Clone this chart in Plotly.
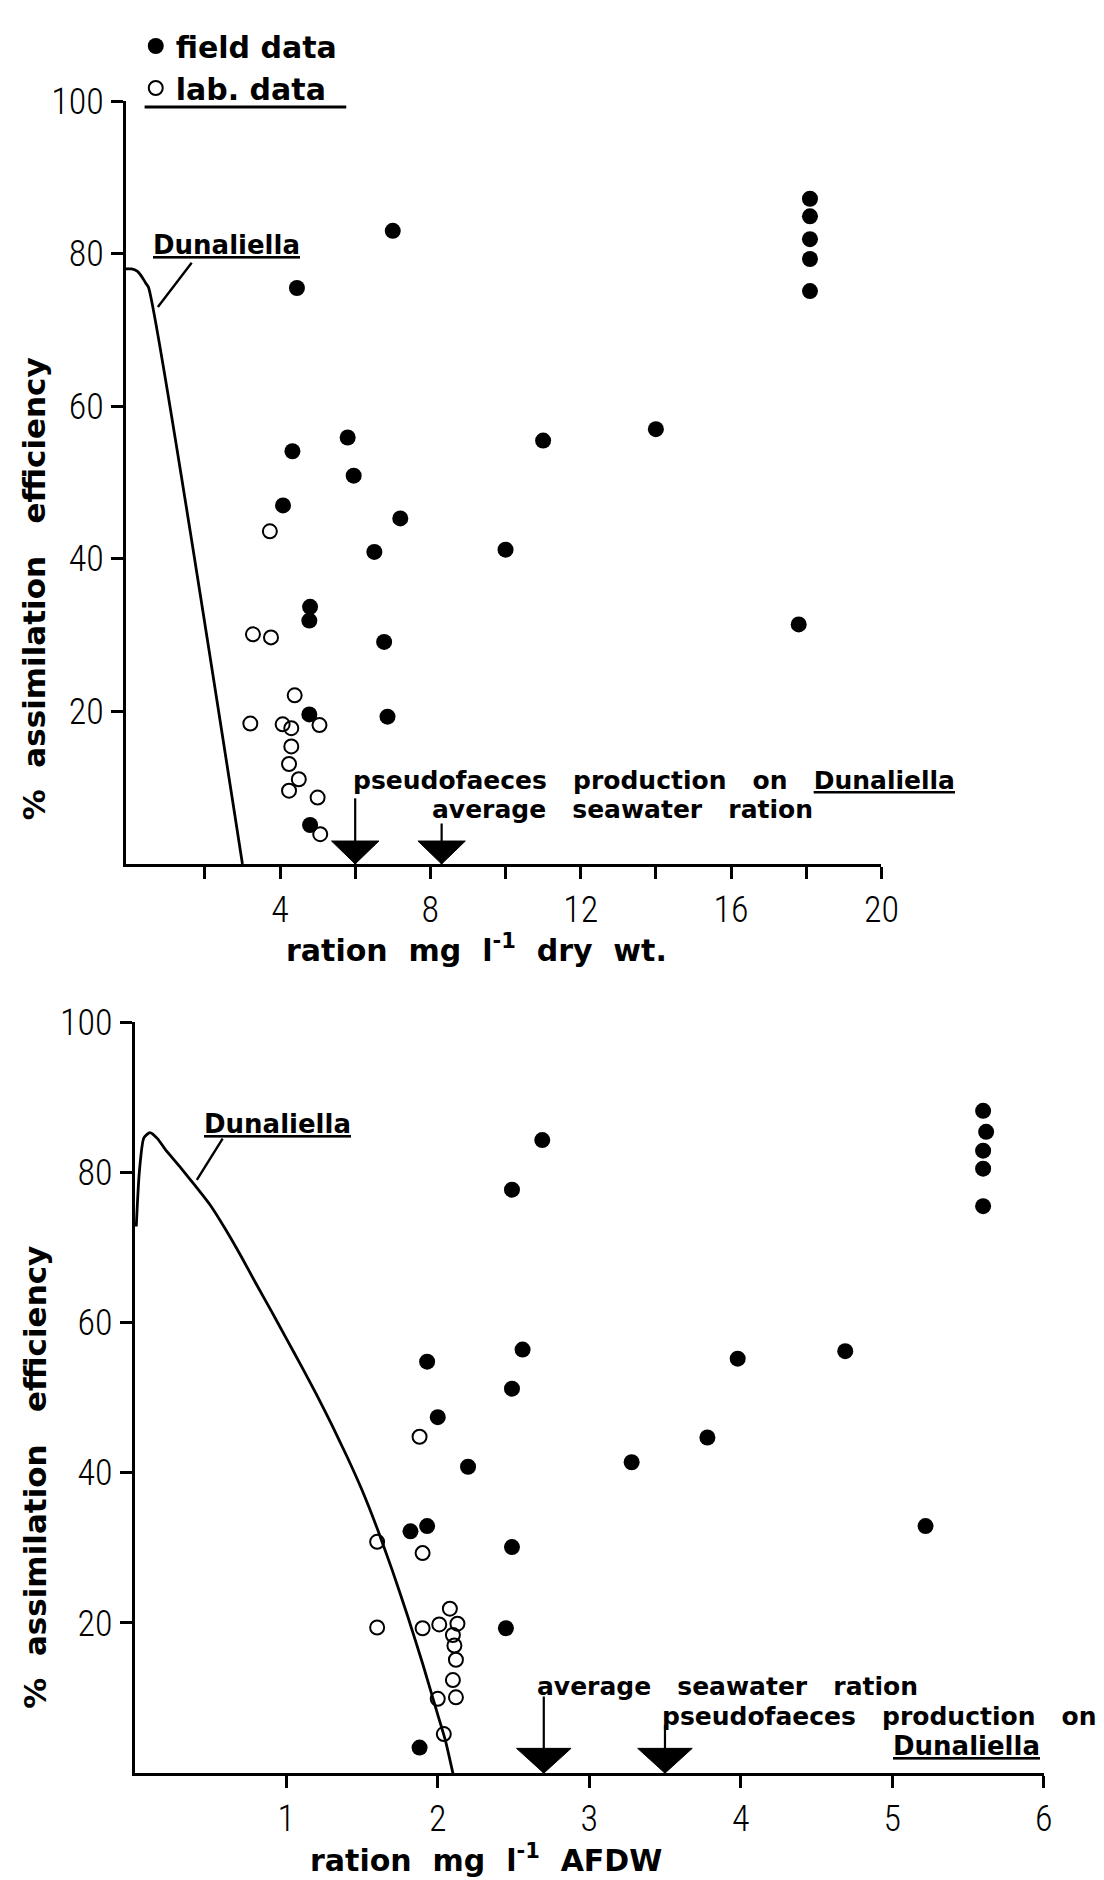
import plotly.graph_objects as go

# ---- Upper panel: ration as dry weight (mg l-1) ----
dw_field_x = [7.0, 4.45, 4.33, 5.80, 5.96, 4.08, 7.20, 6.51, 10.0, 11.0, 14.0,
              4.80, 4.78, 6.77, 4.78, 6.86, 4.80, 17.8, 18.1, 18.1, 18.1, 18.1, 18.1]
dw_field_y = [83.0, 75.5, 54.1, 55.9, 50.9, 47.0, 45.3, 40.9, 41.2, 55.5, 57.0,
              33.7, 31.9, 29.1, 19.6, 19.3, 5.1, 31.4, 87.2, 84.9, 81.9, 79.3, 75.1]
dw_lab_x = [3.73, 3.28, 3.76, 4.39, 3.21, 4.07, 4.30, 5.05, 4.30, 4.24, 4.50, 4.24, 5.00, 5.07]
dw_lab_y = [43.6, 30.1, 29.7, 22.1, 18.4, 18.3, 17.8, 18.2, 15.4, 13.1, 11.1, 9.6, 8.7, 3.9]
dw_curve_x = [-0.1, 0.05, 0.20, 0.32, 0.42, 0.50, 3.00]
dw_curve_y = [78.0, 78.0, 77.7, 77.0, 76.2, 75.6, 0.0]
dw_markers = [6.0, 8.3]          # pseudofaeces on Dunaliella, average seawater ration
dw_marker_tops = [8.6, 5.3]
dw_pointer_x = [0.75, 1.65]
dw_pointer_y = [73.0, 78.8]
dw_ticks = [4, 8, 12, 16, 20]
dw_ticklabels = ["4", "8", "12", "16", "20"]
dw_minor_ticks = [2, 6, 10, 14, 18]

# ---- Lower panel: ration as ash-free dry weight (mg l-1) ----
afdw_field_x = [5.60, 5.62, 5.60, 5.60, 5.60, 2.69, 2.49, 2.56, 1.93, 2.49, 2.00,
                2.20, 3.98, 4.69, 3.78, 3.28, 5.22, 1.82, 1.93, 2.49, 2.45, 1.88]
afdw_field_y = [88.2, 85.4, 82.9, 80.5, 75.5, 84.3, 77.7, 56.4, 54.8, 51.2, 47.4,
                40.8, 55.2, 56.2, 44.7, 41.4, 32.9, 32.2, 32.9, 30.1, 19.3, 3.4]
afdw_lab_x = [1.88, 1.60, 1.90, 1.60, 1.90, 2.01, 2.08, 2.13, 2.10, 2.11, 2.12, 2.10, 2.00, 2.12, 2.04]
afdw_lab_y = [44.8, 30.8, 29.3, 19.4, 19.3, 19.8, 21.9, 19.9, 18.4, 17.0, 15.1, 12.4, 9.9, 10.1, 5.2]
afdw_curve_x = [0.01, 0.03, 0.06, 0.10, 0.15, 0.20, 0.30, 0.40, 0.50, 0.60, 0.70, 0.80, 0.90,
                1.00, 1.10, 1.20, 1.30, 1.40, 1.50, 1.60, 1.70, 1.80, 1.90, 2.00, 2.05, 2.10]
afdw_curve_y = [72.8, 80.0, 84.6, 85.3, 84.5, 83.1, 80.7, 78.2, 75.6, 72.4, 68.9, 65.2, 61.6,
                57.9, 54.2, 50.4, 46.4, 42.2, 37.7, 32.6, 27.0, 21.0, 14.6, 7.8, 4.4, 0.0]
afdw_markers = [2.7, 3.5]        # average seawater ration, pseudofaeces on Dunaliella
afdw_marker_tops = [10.2, 6.4]
afdw_pointer_x = [0.41, 0.58]
afdw_pointer_y = [79.0, 84.5]
afdw_ticks = [1, 2, 3, 4, 5, 6]
afdw_ticklabels = ["1", "2", "3", "4", "5", "6"]

y_ticks = [20, 40, 60, 80, 100]
y_ticklabels = ["20", "40", "60", "80", "100"]

W, H = 1104, 1880
INK = "black"
TICK_FONT = dict(family="Roboto Condensed, Liberation Sans Narrow, Roboto, sans-serif",
                 size=36, color=INK, weight=300)
NOTE_FONT = dict(family="DejaVu Sans", size=25, color=INK, weight="bold")
NAME_FONT = dict(family="DejaVu Sans", size=26, color=INK, weight="bold")
TITLE_FONT = dict(family="DejaVu Sans", size=31, color=INK, weight="bold")
XTITLE_FONT = dict(family="DejaVu Sans", size=30, color=INK, weight="bold")
SP = "\u00a0\u00a0"
GAP = "\u00a0\u00a0\u00a0"


def triangle_path(xs, half_w, h):
    """Inverted-triangle outline for each marker position on the x axis."""
    px, py = [], []
    for v in xs:
        px += [v - half_w, v + half_w, v, v - half_w, None]
        py += [h, h, 0, h, None]
    return px, py


def drop_lines(xs, tops):
    px, py = [], []
    for v, t in zip(xs, tops):
        px += [v, v, None]
        py += [t, 0, None]
    return px, py


def line_trace(x, y, xa, ya, width):
    return go.Scatter(x=x, y=y, mode="lines", line=dict(color=INK, width=width),
                      showlegend=False, hoverinfo="skip", xaxis=xa, yaxis=ya)


fig = go.Figure()

# upper panel
fig.add_trace(go.Scatter(x=dw_curve_x, y=dw_curve_y, mode="lines",
                         line=dict(color=INK, width=2.8, shape="spline", smoothing=0.6),
                         showlegend=False, xaxis="x", yaxis="y"))
fig.add_trace(go.Scatter(x=dw_field_x, y=dw_field_y, mode="markers", name="field data",
                         marker=dict(symbol="circle", size=16, color=INK),
                         xaxis="x", yaxis="y"))
fig.add_trace(go.Scatter(x=dw_lab_x, y=dw_lab_y, mode="markers", name="lab. data",
                         marker=dict(symbol="circle-open", size=14, color=INK, line=dict(width=2)),
                         xaxis="x", yaxis="y"))
lx, ly = drop_lines(dw_markers, dw_marker_tops)
fig.add_trace(line_trace(lx, ly, "x", "y", 2.2))
fig.add_trace(line_trace(dw_pointer_x, dw_pointer_y, "x", "y", 2.4))
tx, ty = triangle_path(dw_markers, 0.63, 3.0)
fig.add_trace(go.Scatter(x=tx, y=ty, mode="lines", fill="toself", fillcolor=INK,
                         line=dict(color=INK, width=1), showlegend=False, xaxis="x", yaxis="y"))

# lower panel
fig.add_trace(go.Scatter(x=afdw_curve_x, y=afdw_curve_y, mode="lines",
                         line=dict(color=INK, width=2.8, shape="spline", smoothing=0.6),
                         showlegend=False, xaxis="x2", yaxis="y2"))
fig.add_trace(go.Scatter(x=afdw_field_x, y=afdw_field_y, mode="markers", showlegend=False,
                         marker=dict(symbol="circle", size=16, color=INK),
                         xaxis="x2", yaxis="y2"))
fig.add_trace(go.Scatter(x=afdw_lab_x, y=afdw_lab_y, mode="markers", showlegend=False,
                         marker=dict(symbol="circle-open", size=14, color=INK, line=dict(width=2)),
                         xaxis="x2", yaxis="y2"))
lx, ly = drop_lines(afdw_markers, afdw_marker_tops)
fig.add_trace(line_trace(lx, ly, "x2", "y2", 2.2))
fig.add_trace(line_trace(afdw_pointer_x, afdw_pointer_y, "x2", "y2", 2.4))
tx, ty = triangle_path(afdw_markers, 0.18, 3.3)
fig.add_trace(go.Scatter(x=tx, y=ty, mode="lines", fill="toself", fillcolor=INK,
                         line=dict(color=INK, width=1), showlegend=False, xaxis="x2", yaxis="y2"))

axis_common = dict(showline=True, linewidth=3, linecolor=INK, ticks="outside", ticklen=12,
                   tickwidth=3, tickcolor=INK, showgrid=False, zeroline=False,
                   tickfont=TICK_FONT, fixedrange=True)

fig.update_layout(
    width=W, height=H,
    margin=dict(l=0, r=0, t=0, b=0),
    paper_bgcolor="white", plot_bgcolor="white",
    showlegend=True,
    legend=dict(x=138 / W, y=1.0, xanchor="left", yanchor="top",
                font=dict(family="DejaVu Sans", size=30, color=INK, weight="bold"),
                bgcolor="rgba(0,0,0,0)", tracegroupgap=0, itemwidth=30),
    xaxis=dict(domain=[128 / W, 896 / W], range=[-0.1, 20], tickvals=dw_ticks,
               ticktext=dw_ticklabels, anchor="y",
               minor=dict(tickmode="array", tickvals=dw_minor_ticks, ticks="outside",
                          ticklen=12, tickwidth=3, tickcolor=INK, showgrid=False),
               **axis_common),
    yaxis=dict(domain=[1 - 853 / H, 1 - 82 / H], range=[0, 100], tickvals=y_ticks,
               ticktext=y_ticklabels, anchor="x", **axis_common),
    xaxis2=dict(domain=[137 / W, 1061 / W], range=[0, 6], tickvals=afdw_ticks,
                ticktext=afdw_ticklabels, anchor="y2", **axis_common),
    yaxis2=dict(domain=[1 - 1772 / H, 1 - 1013 / H], range=[0, 100], tickvals=y_ticks,
                ticktext=y_ticklabels, anchor="x2", **axis_common),
)

# underline beneath the key
fig.add_shape(type="line", xref="paper", yref="paper",
              x0=147 / W, x1=352 / W, y0=1 - 88 / H, y1=1 - 88 / H,
              line=dict(color=INK, width=3))

y_title = "%" + SP + "assimilation" + GAP + "efficiency"
annotations = [
    # axis titles
    dict(text=y_title, xref="paper", yref="paper", x=34 / W, y=1 - 575 / H,
         xanchor="center", yanchor="middle", textangle=-90, font=TITLE_FONT, showarrow=False),
    dict(text=y_title, xref="paper", yref="paper", x=36 / W, y=1 - 1473 / H,
         xanchor="center", yanchor="middle", textangle=-90, font=TITLE_FONT, showarrow=False),
    dict(text="ration" + SP + "mg" + SP + "l<sup>-1</sup>" + SP + "dry" + SP + "wt.",
         xref="paper", yref="paper", x=484 / W, y=1 - 938 / H,
         xanchor="center", yanchor="middle", font=XTITLE_FONT, showarrow=False),
    dict(text="ration" + SP + "mg" + SP + "l<sup>-1</sup>" + SP + "AFDW",
         xref="paper", yref="paper", x=494 / W, y=1 - 1858 / H,
         xanchor="center", yanchor="middle", font=XTITLE_FONT, showarrow=False),
    # upper panel notes
    dict(text="<u>Dunaliella</u>", x=2.58, y=81.2, xref="x", yref="y",
         xanchor="center", yanchor="middle", font=NAME_FONT, showarrow=False),
    dict(text="pseudofaeces" + GAP + "production" + GAP + "on" + GAP + "<u>Dunaliella</u>",
         x=5.9, y=11.0, xref="x", yref="y", xanchor="left", yanchor="middle",
         font=NOTE_FONT, showarrow=False),
    dict(text="average" + GAP + "seawater" + GAP + "ration",
         x=7.98, y=7.1, xref="x", yref="y", xanchor="left", yanchor="middle",
         font=NOTE_FONT, showarrow=False),
    # lower panel notes
    dict(text="<u>Dunaliella</u>", x=0.94, y=86.4, xref="x2", yref="y2",
         xanchor="center", yanchor="middle", font=NAME_FONT, showarrow=False),
    dict(text="average" + GAP + "seawater" + GAP + "ration",
         x=2.64, y=11.5, xref="x2", yref="y2", xanchor="left", yanchor="middle",
         font=NOTE_FONT, showarrow=False),
    dict(text="pseudofaeces" + GAP + "production" + GAP + "on",
         x=3.47, y=7.6, xref="x2", yref="y2", xanchor="left", yanchor="middle",
         font=NOTE_FONT, showarrow=False),
    dict(text="<u>Dunaliella</u>", x=5.99, y=3.6, xref="x2", yref="y2",
         xanchor="right", yanchor="middle", font=NAME_FONT, showarrow=False),
]
fig.update_layout(annotations=annotations)

fig.write_html("out.html")
